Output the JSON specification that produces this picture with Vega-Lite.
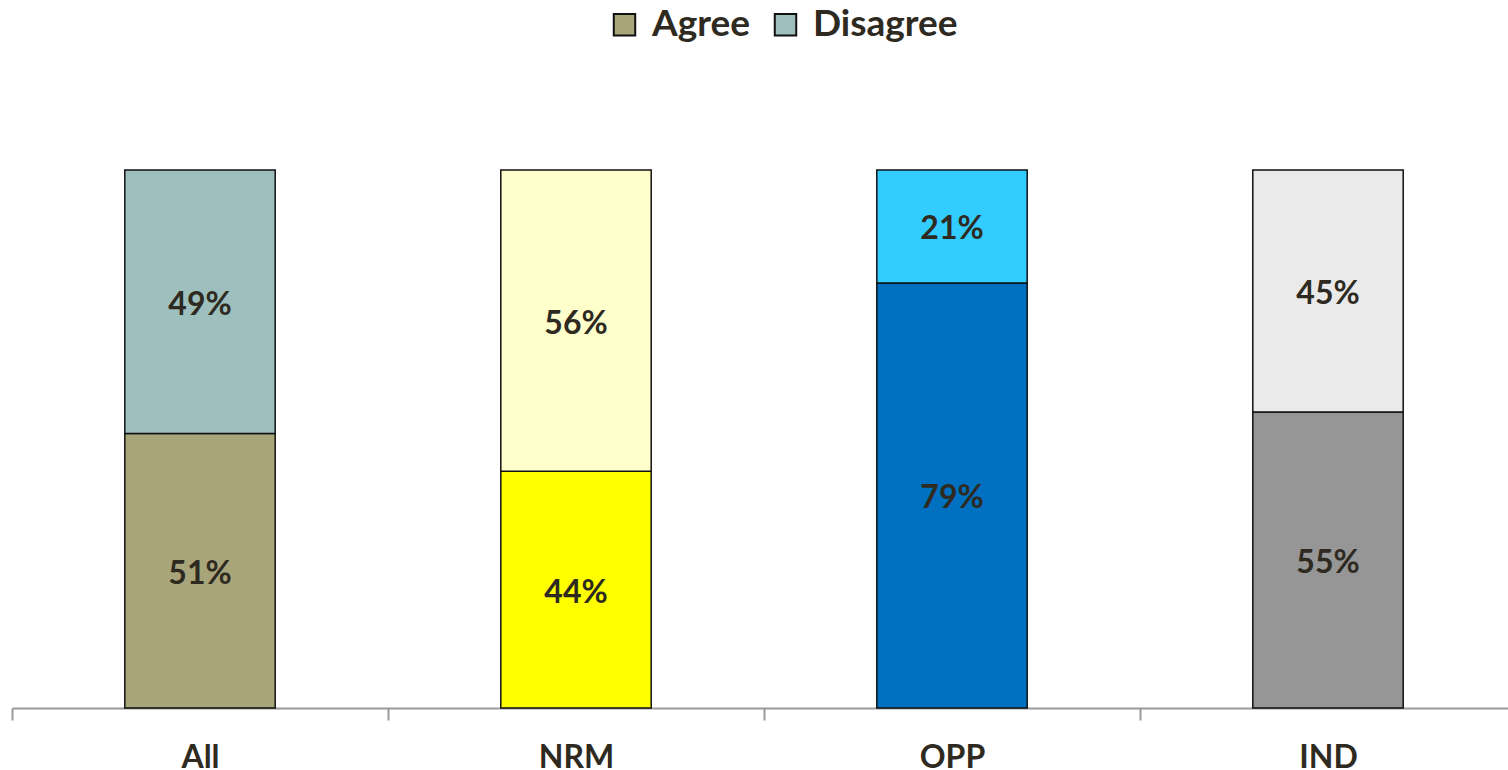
{
  "$schema": "https://vega.github.io/schema/vega-lite/v6.json",
  "width": 1504,
  "height": 538,
  "autosize": {"type": "none"},
  "padding": {"left": 12, "top": 170, "right": 0, "bottom": 62},
  "background": "white",
  "config": {"view": {"stroke": null}, "font": "Lato"},
  "data": {"values": [
    {"cat": "All", "series": "Agree", "key": "All-Agree", "value": 0.51},
    {"cat": "All", "series": "Disagree", "key": "All-Disagree", "value": 0.49},
    {"cat": "NRM", "series": "Agree", "key": "NRM-Agree", "value": 0.44},
    {"cat": "NRM", "series": "Disagree", "key": "NRM-Disagree", "value": 0.56},
    {"cat": "OPP", "series": "Agree", "key": "OPP-Agree", "value": 0.79},
    {"cat": "OPP", "series": "Disagree", "key": "OPP-Disagree", "value": 0.21},
    {"cat": "IND", "series": "Agree", "key": "IND-Agree", "value": 0.55},
    {"cat": "IND", "series": "Disagree", "key": "IND-Disagree", "value": 0.45}
  ]},
  "encoding": {
    "x": {
      "field": "cat", "type": "nominal", "sort": ["All", "NRM", "OPP", "IND"],
      "scale": {"paddingInner": 0, "paddingOuter": 0},
      "axis": {
        "title": null, "labelAngle": 0, "tickBand": "extent",
        "domainColor": "#999999", "domainWidth": 2, "tickColor": "#999999", "tickWidth": 2, "tickSize": 12,
        "labelFont": "Lato", "labelFontSize": 32, "labelFontWeight": "bold", "labelColor": "#2e2a1f",
        "labelPadding": 22, "labelBaseline": "top"
      }
    },
    "y": {
      "field": "value", "type": "quantitative", "stack": "zero",
      "scale": {"domain": [0, 1], "nice": false},
      "axis": null
    },
    "order": {"field": "series", "sort": "ascending"}
  },
  "layer": [
    {
      "mark": {"type": "bar", "width": {"band": 0.4}, "stroke": "#111111", "strokeWidth": 1.5},
      "encoding": {
        "color": {
          "field": "key", "type": "nominal",
          "scale": {
            "domain": ["All-Agree", "All-Disagree", "NRM-Agree", "NRM-Disagree", "OPP-Agree", "OPP-Disagree", "IND-Agree", "IND-Disagree"],
            "range": ["#A9A57B", "#9DBFBD", "#FFFF00", "#FFFFCC", "#0070C0", "#33CCFF", "#969696", "#EAEAEA"]
          },
          "legend": {
            "values": ["All-Agree", "All-Disagree"],
            "labelExpr": "split(datum.label, '-')[1]",
            "title": null, "orient": "none", "direction": "horizontal",
            "legendX": 594, "legendY": -164,
            "symbolType": "square", "symbolSize": 460, "symbolStrokeColor": "#111111", "symbolStrokeWidth": 2,
            "labelFont": "Lato", "labelFontSize": 37, "labelFontWeight": "bold", "labelColor": "#2e2a1f",
            "labelOffset": 9, "columnPadding": 16
          }
        }
      }
    },
    {
      "mark": {"type": "text", "font": "Lato", "fontSize": 32, "fontWeight": "bold", "color": "#2e2a1f", "dy": 3},
      "encoding": {
        "y": {"field": "value", "type": "quantitative", "stack": "zero", "bandPosition": 0.5},
        "text": {"field": "value", "type": "quantitative", "format": ".0%"}
      }
    }
  ]
}
